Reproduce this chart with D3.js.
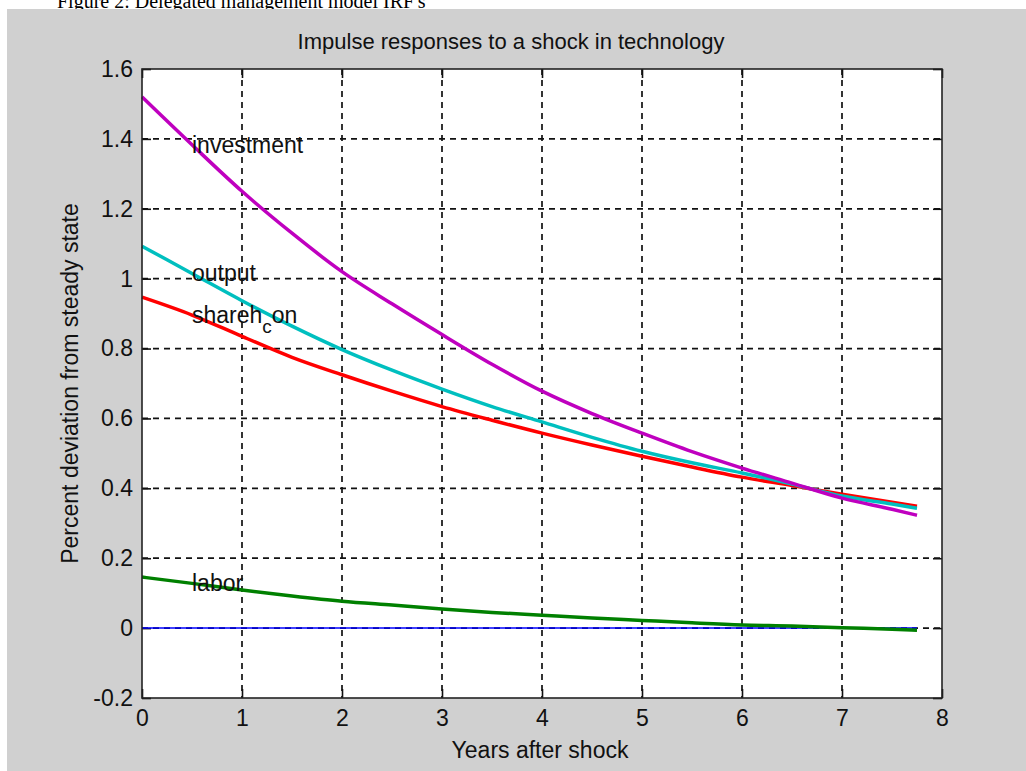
<!DOCTYPE html>
<html>
<head>
<meta charset="utf-8">
<script src="https://cdn.jsdelivr.net/npm/d3@7"></script>
<style>
  body { margin: 0; background: #fff; }
  svg { display: block; }
  text { font-family: "Liberation Sans", Arial, sans-serif; fill: #111; }
</style>
</head>
<body>
<svg id="chart" width="1026" height="771"></svg>
<script>
// values (years after the shock, half-year steps)
var years      = [0, 0.5, 1, 1.5, 2, 2.5, 3, 3.5, 4, 4.5, 5, 5.5, 6, 6.5, 7, 7.5, 7.75];
var investment = [1.52, 1.383, 1.25, 1.13, 1.02, 0.928, 0.84, 0.755, 0.678, 0.614, 0.558, 0.505, 0.458, 0.415, 0.372, 0.34, 0.323];
var output     = [1.093, 1.015, 0.937, 0.864, 0.797, 0.738, 0.684, 0.634, 0.59, 0.546, 0.506, 0.473, 0.444, 0.412, 0.378, 0.355, 0.343];
var sharehcon  = [0.947, 0.896, 0.835, 0.775, 0.725, 0.678, 0.634, 0.595, 0.558, 0.524, 0.492, 0.461, 0.432, 0.408, 0.383, 0.36, 0.349];
var labor      = [0.146, 0.128, 0.109, 0.092, 0.077, 0.066, 0.055, 0.045, 0.037, 0.029, 0.022, 0.015, 0.009, 0.006, 0.001, -0.003, -0.006];

var steadyYears = [0, 7.75];
var steadyState = [0, 0];

var xTicks = [0, 1, 2, 3, 4, 5, 6, 7, 8];
var yTicks = [-0.2, 0, 0.2, 0.4, 0.6, 0.8, 1, 1.2, 1.4, 1.6];
var xTickLabels = ["0", "1", "2", "3", "4", "5", "6", "7", "8"];
var yTickLabels = ["-0.2", "0", "0.2", "0.4", "0.6", "0.8", "1", "1.2", "1.4", "1.6"];

var caption = "Figure 2: Delegated management model IRF's";
var title = "Impulse responses to a shock in technology";
var xLabel = "Years after shock";
var yLabel = "Percent deviation from steady state";

var svg = d3.select("#chart");
var W = 1026, H = 771;
var plot = {left: 142, right: 942, top: 69, bottom: 698};

var x = d3.scaleLinear().domain([0, 8]).range([plot.left, plot.right]);
var y = d3.scaleLinear().domain([-0.2, 1.6]).range([plot.bottom, plot.top]);

// caption of the page, cut by the figure window
svg.append("text")
    .attr("x", 57).attr("y", 8)
    .style("font-family", "'Liberation Serif', 'Times New Roman', serif")
    .style("font-size", "20px")
    .style("fill", "#000")
    .text(caption);

svg.append("rect")
    .attr("x", 7).attr("y", 9)
    .attr("width", W - 7).attr("height", H - 9)
    .attr("fill", "#d0d0d0");

svg.append("rect")
    .attr("x", plot.left).attr("y", plot.top)
    .attr("width", plot.right - plot.left).attr("height", plot.bottom - plot.top)
    .attr("fill", "#fff");

// dashed grid
var grid = svg.append("g").attr("class", "grid")
    .attr("stroke", "#111").attr("stroke-width", 1.7).attr("stroke-dasharray", "6,5");

grid.selectAll("line.vx").data(xTicks.slice(1, -1)).enter()
    .append("line")
    .attr("x1", function(d) { return x(d); }).attr("x2", function(d) { return x(d); })
    .attr("y1", plot.top).attr("y2", plot.bottom);

grid.selectAll("line.hy").data(yTicks.slice(1, -1)).enter()
    .append("line")
    .attr("x1", plot.left).attr("x2", plot.right)
    .attr("y1", function(d) { return y(d); }).attr("y2", function(d) { return y(d); });

// axes, ticks inside on all four sides
var tickLen = 9;
function styleAxis(g) {
    g.select(".domain").remove();
    g.selectAll(".tick line").attr("stroke", "#111").attr("stroke-width", 1.6);
    g.selectAll(".tick text").style("font-size", "23px").style("font-family", "'Liberation Sans', Arial, sans-serif").attr("fill", "#111");
}

svg.append("g")
    .attr("transform", "translate(0," + plot.bottom + ")")
    .call(d3.axisBottom(x).tickValues(xTicks).tickSize(-tickLen).tickPadding(12)
        .tickFormat(function(d, i) { return xTickLabels[i]; }))
    .call(styleAxis);

svg.append("g")
    .attr("transform", "translate(" + plot.left + ",0)")
    .call(d3.axisLeft(y).tickValues(yTicks).tickSize(-tickLen).tickPadding(9)
        .tickFormat(function(d, i) { return yTickLabels[i]; }))
    .call(styleAxis);

svg.append("g")
    .attr("transform", "translate(0," + plot.top + ")")
    .call(d3.axisTop(x).tickValues(xTicks).tickSize(-tickLen).tickFormat(""))
    .call(styleAxis);

svg.append("g")
    .attr("transform", "translate(" + plot.right + ",0)")
    .call(d3.axisRight(y).tickValues(yTicks).tickSize(-tickLen).tickFormat(""))
    .call(styleAxis);

// series, in the order matlab plotted them
var line = d3.line()
    .x(function(d) { return x(d[0]); })
    .y(function(d) { return y(d[1]); })
    .curve(d3.curveMonotoneX);

function drawSeries(xs, ys, color, width) {
    svg.append("path")
        .datum(d3.zip(xs, ys))
        .attr("fill", "none")
        .attr("stroke", color)
        .attr("stroke-width", width)
        .attr("stroke-linejoin", "round")
        .attr("d", line);
}

drawSeries(steadyYears, steadyState, "#0000ff", 1.5);
drawSeries(years, labor, "#008000", 3.5);
drawSeries(years, sharehcon, "#ff0000", 3.5);
drawSeries(years, output, "#00bfbf", 3.5);
drawSeries(years, investment, "#bf00bf", 3.5);

// frame
svg.append("rect")
    .attr("x", plot.left).attr("y", plot.top)
    .attr("width", plot.right - plot.left).attr("height", plot.bottom - plot.top)
    .attr("fill", "none").attr("stroke", "#222").attr("stroke-width", 1.6);

// series labels, placed at the half-year point of each series
var labelIdx = 1;
var labelFont = "23px";

function seriesLabel(vals, str) {
    return svg.append("text")
        .attr("x", x(years[labelIdx]))
        .attr("y", y(vals[labelIdx]))
        .attr("dy", "0.35em")
        .style("font-size", labelFont)
        .text(str);
}

seriesLabel(investment, "investment");
seriesLabel(output, "output");
seriesLabel(labor, "labor");

var sh = svg.append("text")
    .attr("x", x(years[labelIdx]))
    .attr("y", y(sharehcon[labelIdx]))
    .attr("dy", "0.35em")
    .style("font-size", labelFont);
sh.append("tspan").text("shareh");
sh.append("tspan").attr("dy", 10).style("font-size", "19px").text("c");
sh.append("tspan").attr("dy", -10).text("on");

// titles
svg.append("text")
    .attr("x", 511).attr("y", 49)
    .attr("text-anchor", "middle")
    .style("font-size", "22px")
    .text(title);

svg.append("text")
    .attr("x", 540).attr("y", 758)
    .attr("text-anchor", "middle")
    .style("font-size", "23px")
    .text(xLabel);

svg.append("text")
    .attr("transform", "translate(78," + ((plot.top + plot.bottom) / 2) + ") rotate(-90)")
    .attr("text-anchor", "middle")
    .style("font-size", "23px")
    .text(yLabel);
</script>
</body>
</html>
